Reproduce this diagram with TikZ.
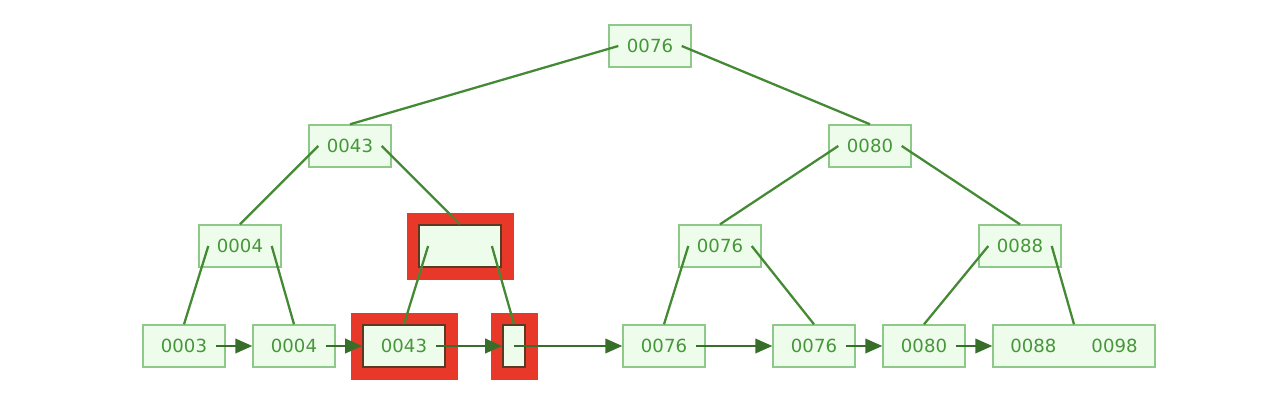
\documentclass[tikz,border=0pt]{standalone}
\usepackage{fontspec}
\setmainfont{DejaVu Sans}
\usetikzlibrary{positioning, arrows.meta}

\definecolor{boxfill}{RGB}{238,252,236}
\definecolor{boxline}{RGB}{143,201,138}
\definecolor{keytext}{RGB}{70,150,58}
\definecolor{edgegreen}{RGB}{68,138,52}
\definecolor{hlred}{RGB}{232,56,42}
\definecolor{hlline}{RGB}{90,58,32}

\begin{document}
\begin{tikzpicture}
    [
        node distance=2cm and 2.2cm, on grid,
        key_node/.style={rectangle, draw=boxline, fill=boxfill, line width=0.8pt, minimum height=8.4mm, minimum width=16.4mm, inner sep=0pt, text=keytext, font=\fontsize{10.3}{12}\selectfont},
        hl_node/.style={key_node, draw=hlline, line width=1pt, preaction={draw=hlred, line width=5mm}},
        tree_edge/.style={line width=1.3pt, color=edgegreen},
        leaf_arrow/.style={-{Triangle[length=3.4mm, width=2.9mm]}, line width=1.3pt, color=edgegreen!80!black},
    ]
        \useasboundingbox (0,0) rectangle (25.24,-8.2);
        % inner levels
        \node[key_node] (root) at (13,-0.92) {0076} ;
        \node[key_node] (i43) [below left = 2cm and 6cm of root] {0043} ;
        \node[key_node] (i80) [below right = 2cm and 4.4cm of root] {0080} ;
        \node[key_node] (i04) [below left = of i43] {0004} ;
        \node[hl_node] (iempty) [below right = of i43] {} ;
        \node[key_node] (i76) [below left = 2cm and 3cm of i80] {0076} ;
        \node[key_node] (i88) [below right = 2cm and 3cm of i80] {0088} ;
        % leaves
        \node[key_node] (l03) [below left = 2cm and 1.12cm of i04] {0003} ;
        \node[key_node] (l04) [right = of l03] {0004} ;
        \node[hl_node] (l43) [right = of l04] {0043} ;
        \node[hl_node, minimum width=4.4mm] (lempty) [right = of l43] {} ;
        \node[key_node] (l76a) [right = 3cm of lempty] {0076} ;
        \node[key_node] (l76b) [right = 3cm of l76a] {0076} ;
        \node[key_node] (l80) [right = of l76b] {0080} ;
        \node[key_node, minimum width=32.4mm] (l88) [right = 3cm of l80] {0088\hspace{7mm}0098} ;
        % tree edges
        \draw[tree_edge] ([xshift=2mm]root.west) -- (i43.north) ;
        \draw[tree_edge] ([xshift=-2mm]root.east) -- (i80.north) ;
        \draw[tree_edge] ([xshift=2mm]i43.west) -- (i04.north) ;
        \draw[tree_edge] ([xshift=-2mm]i43.east) -- (iempty.north) ;
        \draw[tree_edge] ([xshift=2mm]i80.west) -- (i76.north) ;
        \draw[tree_edge] ([xshift=-2mm]i80.east) -- (i88.north) ;
        \draw[tree_edge] ([xshift=2mm]i04.west) -- (l03.north) ;
        \draw[tree_edge] ([xshift=-2mm]i04.east) -- (l04.north) ;
        \draw[tree_edge] ([xshift=2mm]iempty.west) -- (l43.north) ;
        \draw[tree_edge] ([xshift=-2mm]iempty.east) -- (lempty.north) ;
        \draw[tree_edge] ([xshift=2mm]i76.west) -- (l76a.north) ;
        \draw[tree_edge] ([xshift=-2mm]i76.east) -- (l76b.north) ;
        \draw[tree_edge] ([xshift=2mm]i88.west) -- (l80.north) ;
        \draw[tree_edge] ([xshift=-2mm]i88.east) -- (l88.north) ;
        % leaf chain
        \draw[leaf_arrow] ([xshift=-2mm]l03.east) -- (l04.west) ;
        \draw[leaf_arrow] ([xshift=-2mm]l04.east) -- (l43.west) ;
        \draw[leaf_arrow] ([xshift=-2mm]l43.east) -- (lempty.west) ;
        \draw[leaf_arrow] (lempty.center) -- (l76a.west) ;
        \draw[leaf_arrow] ([xshift=-2mm]l76a.east) -- (l76b.west) ;
        \draw[leaf_arrow] ([xshift=-2mm]l76b.east) -- (l80.west) ;
        \draw[leaf_arrow] ([xshift=-2mm]l80.east) -- (l88.west) ;
    \end{tikzpicture}
\end{document}
